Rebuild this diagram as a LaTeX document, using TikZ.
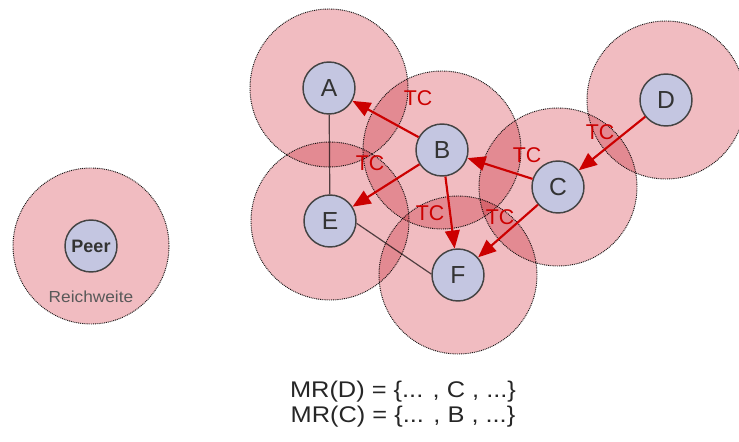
\documentclass[tikz,border=0pt]{standalone}
\usepackage{fontspec}
\setmainfont{Liberation Sans}
\usetikzlibrary{arrows.meta}

\definecolor{rangefill}{RGB}{241,188,193}
\definecolor{nodefill}{RGB}{196,198,225}
\definecolor{nodeborder}{RGB}{68,68,68}
\definecolor{nodetext}{RGB}{51,51,51}
\definecolor{tcred}{RGB}{204,0,0}
\definecolor{linkgray}{RGB}{85,85,85}

\pgfdeclarelayer{links}
\pgfdeclarelayer{ranges}
\pgfsetlayers{links,ranges,main}

\begin{document}
\begin{tikzpicture}[x=0.75pt,y=-0.75pt,
  peer/.style={circle, draw=nodeborder, line width=1.1pt, fill=nodefill,
    minimum size=39pt, inner sep=0pt, text=nodetext,
    font=\fontsize{18.5}{18.5}\selectfont},
  rangedisk/.style={fill=rangefill, draw=black!90, line width=0.7pt,
    dash pattern=on 0.7pt off 0.7pt, blend mode=multiply},
  link/.style={draw=linkgray, line width=0.9pt},
  tc/.style={draw=tcred, line width=1.6pt, -{Triangle[length=13.5pt,width=11pt]}},
  tclabel/.style={text=tcred, inner sep=0pt, font=\fontsize{16}{16}\selectfont},
  formula/.style={text=black!85, inner sep=0pt, font=\fontsize{17}{17}\selectfont}
]
\useasboundingbox (0,0) rectangle (739,442);

% peers
\node[peer] (A) at (329,88) {A};
\node[peer] (B) at (442,150) {B};
\node[peer] (C) at (558,187) {C};
\node[peer] (D) at (666,100) {D};
\node[peer] (E) at (330,221) {E};
\node[peer] (F) at (458,275) {F};
\node[peer, font=\fontsize{13.5}{13.5}\selectfont\bfseries] (P) at (91,246) {Peer};
\node[text=black!65, inner sep=0pt, font=\fontsize{12}{12}\selectfont]
  (reach) at (91,297) {\scalebox{1.08}[1]{Reichweite}};

% transmission ranges
\begin{pgfonlayer}{ranges}
  \foreach \p in {A,B,C,D,E,F}
    \path[rangedisk] (\p) circle[radius=59.25pt];
  \path[rangedisk] (P) circle[radius=58.5pt];
\end{pgfonlayer}

% plain links
\begin{pgfonlayer}{links}
  \draw[link] (A) -- (E);
  \draw[link] (E.-5) -- (F.178);
\end{pgfonlayer}

% topology control links
\draw[tc] (B) -- (A);
\draw[tc] (B) -- (E);
\draw[tc] (B) -- (F);
\draw[tc] (C) -- (B);
\draw[tc] (C) -- (F);
\draw[tc] (D) -- (C);

\node[tclabel] (tBA) at (418,98) {TC};
\node[tclabel] (tBE) at (370,163) {TC};
\node[tclabel] (tBF) at (430,213) {TC};
\node[tclabel] (tCB) at (527,155) {TC};
\node[tclabel] (tCF) at (500,217) {TC};
\node[tclabel] (tDC) at (600,132) {TC};

% neighbour sets
\node[formula] (mrD) at (403,392) {\scalebox{1.12}[1]{MR(D) = \{... , C , ...\}}};
\node[formula] (mrC) at (403,417) {\scalebox{1.12}[1]{MR(C) = \{... , B , ...\}}};
\end{tikzpicture}
\end{document}
